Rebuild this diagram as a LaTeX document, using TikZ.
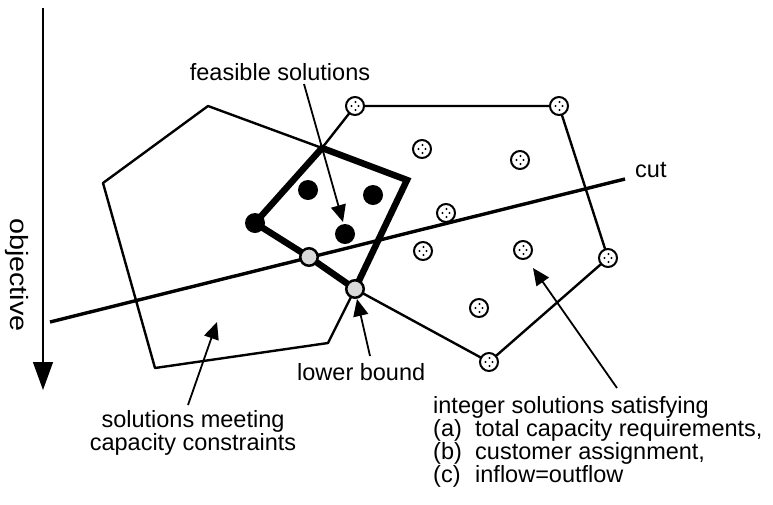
\documentclass[tikz,border=0pt]{standalone}
\usepackage{fontspec}
\usepackage{graphicx}
\setmainfont{Liberation Sans}
\usetikzlibrary{arrows.meta}
\begin{document}
\begin{tikzpicture}[x=1pt,y=-1pt,
  lbl/.style={inner sep=0pt, font=\fontsize{23.5}{23}\selectfont},
  thinedge/.style={line width=2.4pt, line join=round},
  cutline/.style={line width=3.4pt},
  thickedge/.style={line width=6.5pt, line join=miter},
  ptr/.style={line width=1.8pt, -{Triangle[length=17pt,width=15pt]}},
  intpt/.style={circle, draw, line width=2pt, fill=white, minimum size=18pt, inner sep=0pt,
    path picture={
      \fill[black] ([xshift=0.5pt,yshift=4pt]path picture bounding box.center) circle (1.1pt);
      \fill[black] ([xshift=-3.5pt,yshift=0pt]path picture bounding box.center) circle (1.1pt);
      \fill[black] ([xshift=3.5pt,yshift=0pt]path picture bounding box.center) circle (1.1pt);
      \fill[black] ([xshift=0.5pt,yshift=-4pt]path picture bounding box.center) circle (1.1pt);
    }},
  greypt/.style={circle, draw, line width=2.5pt, fill=gray!30, minimum size=17.5pt, inner sep=0pt},
  blackpt/.style={circle, fill=black, minimum size=20pt, inner sep=0pt}
]
\useasboundingbox (0,0) rectangle (773,504);

% coordinates
\coordinate (L1) at (208,106);
\coordinate (Q1) at (322,148);
\coordinate (Q2) at (407,180);
\coordinate (Q3) at (355,289);
\coordinate (Q4) at (309,257);
\coordinate (Q5) at (255,223);
\coordinate (L2) at (328,343);
\coordinate (L3) at (155,368);
\coordinate (L4) at (103,183);
\coordinate (I1) at (355,106);
\coordinate (I2) at (559,106);
\coordinate (I3) at (608,258);
\coordinate (I4) at (489,362);
\coordinate (I5) at (422,149);
\coordinate (I6) at (520,160);
\coordinate (I7) at (446,213);
\coordinate (I8) at (423,251);
\coordinate (I9) at (523,250);
\coordinate (I10) at (479,308);
\coordinate (F1) at (308,190);
\coordinate (F2) at (373,195);
\coordinate (F3) at (345,234);
\coordinate (C1) at (50,322);
\coordinate (C2) at (625,179);
\coordinate (axtop) at (43,8);
\coordinate (axbot) at (43,390);

% axis
\draw[line width=1.3pt, -{Triangle[length=28pt,width=20pt]}] (axtop) -- (axbot);
\node[lbl, rotate=-90, font=\fontsize{25}{25}\selectfont] (obj) at (17,275) {\scalebox{1.15}[1]{objective}};

% thin polygons
\draw[thinedge] (L1) -- (Q1) -- (I1) -- (I2) -- (I3) -- (I4) -- (Q3) -- (L2) -- (L3) -- (L4) -- cycle;

% cut
\draw[cutline] (C1) -- (C2);

% thick feasible hull
\draw[thickedge] (Q1) -- (Q2) -- (Q3) -- (Q4) -- (Q5) -- cycle;

% points
\foreach \p in {I1,I2,I3,I4,I5,I6,I7,I8,I9,I10}
  \node[intpt] (n\p) at (\p) {};
\node[greypt] (g1) at (Q4) {};
\node[greypt] (g2) at (Q3) {};
\node[blackpt] (b0) at (Q5) {};
\node[blackpt] (b1) at (F1) {};
\node[blackpt] (b2) at (F2) {};
\node[blackpt] (b3) at (F3) {};

% labels
\node[lbl, anchor=base] (feas) at (280,80) {feasible solutions};
\node[lbl, anchor=base west] (cut) at (635,177) {cut};
\node[lbl, anchor=base west] (lb) at (297,380) {lower bound};
\node[lbl, anchor=base] (cap1) at (193,427) {solutions meeting};
\node[lbl, anchor=base] (cap2) at (193,450) {capacity constraints};
\node[lbl, anchor=base west] (int1) at (433,413) {integer solutions satisfying};
\node[lbl, anchor=base west] (int2) at (433,436) {\makebox[42pt][l]{(a)}total capacity requirements,};
\node[lbl, anchor=base west] (int3) at (433,459) {\makebox[42pt][l]{(b)}customer assignment,};
\node[lbl, anchor=base west] (int4) at (433,482) {\makebox[42pt][l]{(c)}inflow=outflow};

% pointer arrows
\coordinate (feasT) at (304,84);
\coordinate (feasH) at (343,222);
\coordinate (lbT) at (370,356);
\coordinate (lbH) at (357,299);
\coordinate (capT) at (188,405);
\coordinate (capH) at (217,322);
\coordinate (intT) at (617,388);
\coordinate (intH) at (533,268);
\draw[ptr] (feasT) -- (feasH);
\draw[ptr] (lbT) -- (lbH);
\draw[ptr] (capT) -- (capH);
\draw[ptr] (intT) -- (intH);
\end{tikzpicture}
\end{document}
